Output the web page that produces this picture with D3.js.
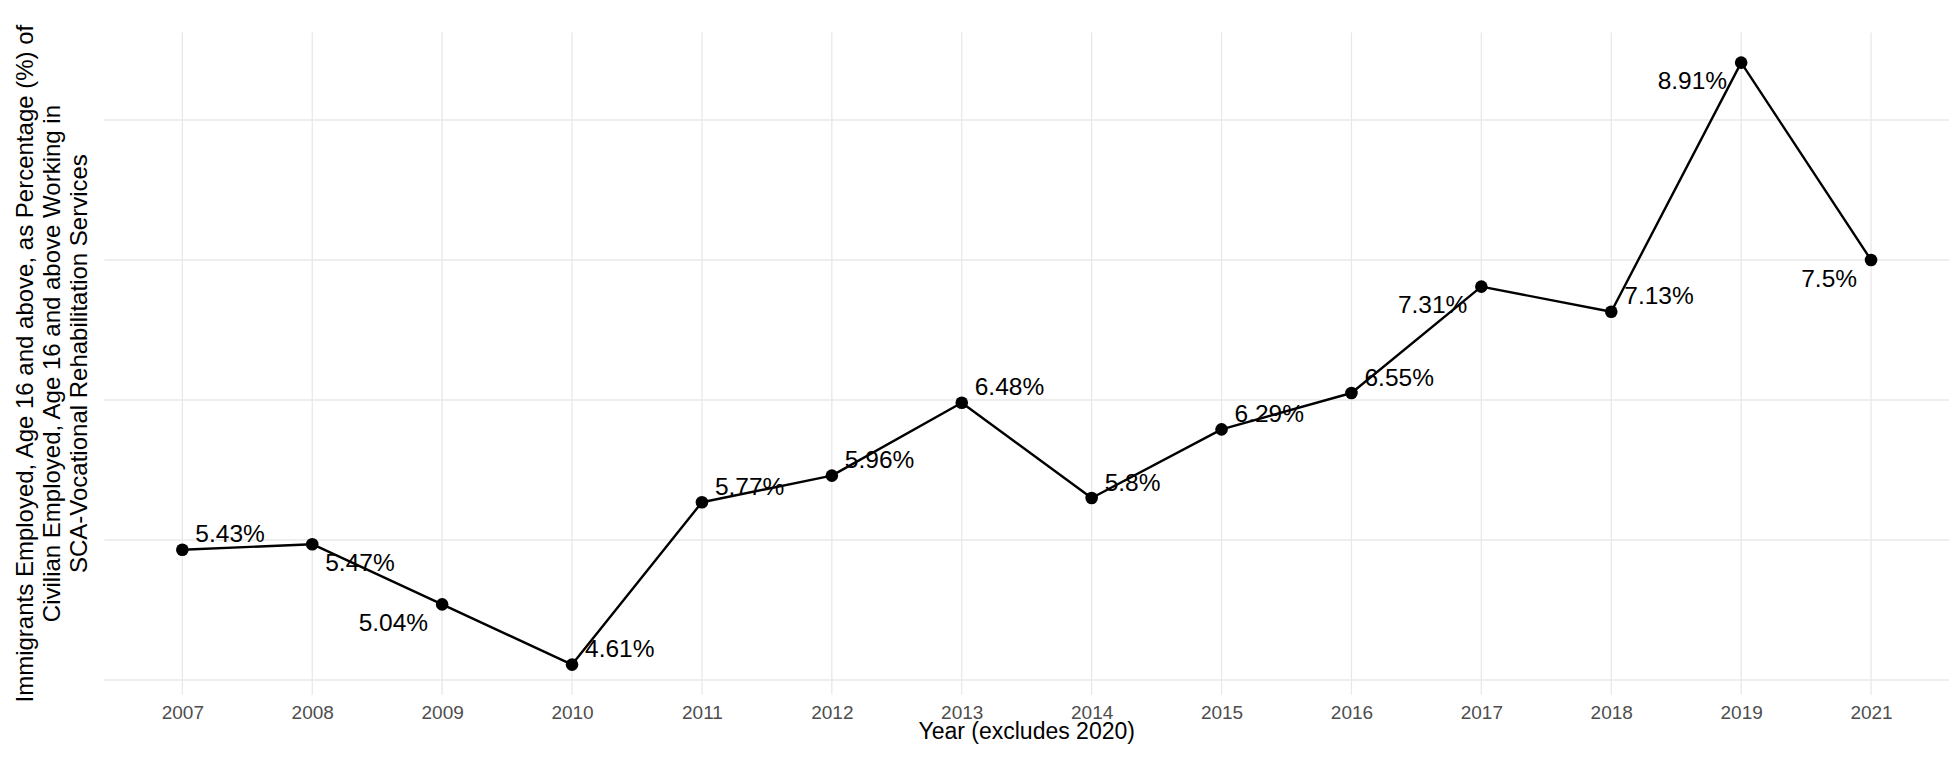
<!DOCTYPE html>
<html>
<head>
<meta charset="utf-8">
<script src="https://cdn.jsdelivr.net/npm/d3@7"></script>
<style>
  html, body { margin: 0; padding: 0; background: #ffffff; }
  svg { display: block; font-family: "Liberation Sans", Arial, sans-serif; }
</style>
</head>
<body>
<script>
// ---- data ----
const years = ["2007","2008","2009","2010","2011","2012","2013","2014","2015","2016","2017","2018","2019","2021"];
const values = [5.43, 5.47, 5.04, 4.61, 5.77, 5.96, 6.48, 5.8, 6.29, 6.55, 7.31, 7.13, 8.91, 7.5];
const valueLabels = ["5.43%","5.47%","5.04%","4.61%","5.77%","5.96%","6.48%","5.8%","6.29%","6.55%","7.31%","7.13%","8.91%","7.5%"];
// label side relative to the point: u/d = above/below, r/l = right/left
const labelSide = ["ur","dr","dl","ur","ur","ur","ur","ur","ur","ur","dl","ur","dl","dl"];
const yGridBreaks = [4.5, 5.5, 6.5, 7.5, 8.5];
const xTitle = "Year (excludes 2020)";
const yTitleLines = [
  "Immigrants Employed, Age 16 and above, as Percentage (%) of",
  "Civilian Employed, Age 16 and above Working in",
  "SCA-Vocational Rehabilitation Services"
];

// ---- layout ----
const W = 1960, H = 764;
const panel = { left: 104.4, right: 1949, top: 32.5, bottom: 694.7 };

const svg = d3.select("body").append("svg").attr("width", W).attr("height", H);

const x = d3.scalePoint().domain(years).range([panel.left, panel.right]).padding(0.6);
const ext = d3.extent(values);
const pad = (ext[1] - ext[0]) * 0.05;
const y = d3.scaleLinear().domain([ext[0] - pad, ext[1] + pad]).range([panel.bottom, panel.top]);

// gridlines
const grid = svg.append("g");
grid.selectAll("line.h").data(yGridBreaks).enter().append("line")
  .attr("x1", panel.left).attr("x2", panel.right)
  .attr("y1", d => y(d)).attr("y2", d => y(d))
  .attr("stroke", "#e8e8e8").attr("stroke-width", 1.3);
grid.selectAll("line.v").data(years).enter().append("line")
  .attr("x1", d => x(d)).attr("x2", d => x(d))
  .attr("y1", panel.top).attr("y2", panel.bottom)
  .attr("stroke", "#e8e8e8").attr("stroke-width", 1.3);

// x axis (labels only)
const xAxis = d3.axisBottom(x).tickSize(0).tickPadding(0);
const gx = svg.append("g").attr("transform", `translate(0,${panel.bottom})`).call(xAxis);
gx.select(".domain").remove();
gx.selectAll("text")
  .attr("y", 24.5).attr("dy", null)
  .attr("fill", "#4d4d4d")
  .style("font-size", "19px")
  .style("font-family", "'Liberation Sans', Arial, sans-serif");

// line
const line = d3.line().x((d, i) => x(years[i])).y(d => y(d));
svg.append("path").datum(values)
  .attr("d", line)
  .attr("fill", "none").attr("stroke", "#000").attr("stroke-width", 2.4)
  .attr("stroke-linejoin", "round");

// points
svg.selectAll("circle.pt").data(values).enter().append("circle")
  .attr("cx", (d, i) => x(years[i])).attr("cy", d => y(d))
  .attr("r", 6.3).attr("fill", "#000");

// value labels
svg.selectAll("text.lbl").data(values).enter().append("text")
  .attr("x", (d, i) => x(years[i]) + (labelSide[i].includes("r") ? 13 : -14))
  .attr("y", (d, i) => y(d) + (labelSide[i].includes("u") ? -7.5 : 26.5))
  .attr("text-anchor", (d, i) => labelSide[i].includes("r") ? "start" : "end")
  .attr("fill", "#000")
  .style("font-size", "24.5px")
  .text((d, i) => valueLabels[i]);

// x title
svg.append("text")
  .attr("x", (panel.left + panel.right) / 2).attr("y", 739)
  .attr("text-anchor", "middle").attr("fill", "#000")
  .style("font-size", "23px")
  .text(xTitle);

// y title
const cy = (panel.top + panel.bottom) / 2;
const yt = svg.append("text")
  .attr("transform", `translate(0,${cy}) rotate(-90)`)
  .attr("text-anchor", "middle").attr("fill", "#000")
  .style("font-size", "24px");
yTitleLines.forEach((t, i) => {
  yt.append("tspan").attr("x", 0).attr("y", 33 + i * 27).text(t);
});
</script>
</body>
</html>
